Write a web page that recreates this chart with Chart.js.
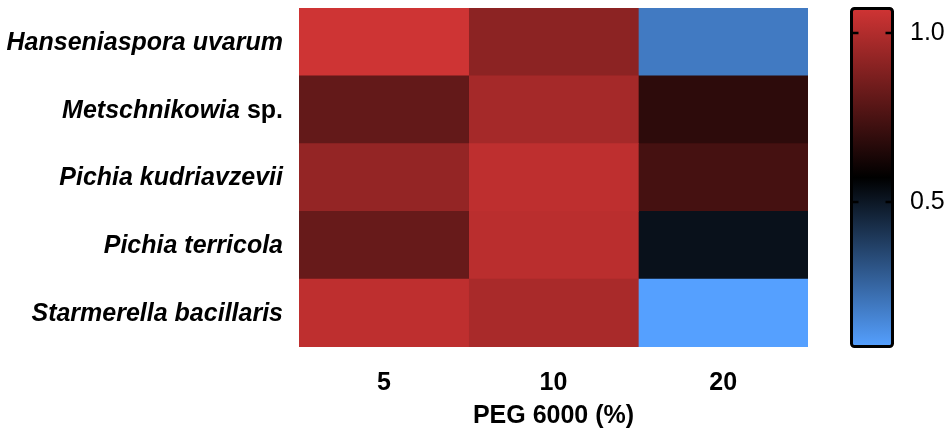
<!DOCTYPE html>
<html>
<head>
<meta charset="utf-8">
<script src="https://cdn.jsdelivr.net/npm/chart.js@4.4.1/dist/chart.umd.min.js"></script>
<style>
  html, body { margin: 0; padding: 0; background: #fff; }
  #wrap { width: 950px; height: 437px; }
</style>
</head>
<body>
<div id="wrap"><canvas id="chart"></canvas></div>
<script>
// rows (top to bottom) and columns of the heatmap
let species = ["Hanseniaspora uvarum", "Metschnikowia sp.", "Pichia kudriavzevii", "Pichia terricola", "Starmerella bacillaris"];
let pegLevels = ["5", "10", "20"];

// relative values per PEG column, one per species
let peg5 = [1.07, 0.81, 0.93, 0.82, 1.03];
let peg10 = [0.91, 0.97, 1.03, 1.02, 0.98];
let peg20 = [0.19, 0.68, 0.74, 0.52, 0.07];

// colour bar
let colorTicks = [0.5, 1.0];
let colorMin = 0.071;
let colorMax = 1.074;

let lowColor = [85, 160, 255];
let midColor = [0, 0, 0];
let highColor = [208, 52, 52];

const FONT = '"Liberation Sans", Arial, sans-serif';

function mix(a, b, t) {
    let c = [];
    for (let i = 0; i < 3; i++) c.push(Math.round(a[i] + (b[i] - a[i]) * t));
    return 'rgb(' + c.join(',') + ')';
}

function valueColor(v) {
    let t = (v - colorMin) / (colorMax - colorMin);
    t = Math.max(0, Math.min(1, t));
    if (t < 0.5) return mix(lowColor, midColor, t / 0.5);
    return mix(midColor, highColor, (t - 0.5) / 0.5);
}

let columns = [peg5, peg10, peg20];
let datasets = columns.map((vals, i) => {
    return {
        label: pegLevels[i],
        data: vals.map(() => 1),   // each cell is one column wide
        backgroundColor: vals.map(valueColor),
        borderWidth: 0,
        barPercentage: 1,
        categoryPercentage: 1
    };
});

// species names (mixed italic) and the colour bar
const extras = {
    id: 'extras',
    afterDraw(chart) {
        let ctx = chart.ctx;
        let y = chart.scales.y;
        ctx.save();
        ctx.fillStyle = '#000';
        ctx.textBaseline = 'middle';
        ctx.textAlign = 'right';
        species.forEach((name, i) => {
            let yy = y.getPixelForTick(i) + 1;
            let right = y.right - 16;
            let italicPart = name, plainPart = '';
            if (name.endsWith(' sp.')) {
                italicPart = name.slice(0, -4);
                plainPart = ' sp.';
            }
            ctx.font = 'bold 25px ' + FONT;
            let w = 0;
            if (plainPart) {
                w = ctx.measureText(plainPart).width;
                ctx.fillText(plainPart, right, yy);
            }
            ctx.font = 'italic bold 25px ' + FONT;
            ctx.fillText(italicPart, right - w, yy);
        });

        let c = chart.scales.c;
        let x0 = 851.5, x1 = 892.5;
        let top = c.top + 0.5, bottom = c.bottom - 0.5;
        let grad = ctx.createLinearGradient(0, c.getPixelForValue(colorMin), 0, c.getPixelForValue(colorMax));
        grad.addColorStop(0, mix(lowColor, lowColor, 0));
        grad.addColorStop(0.5, mix(midColor, midColor, 0));
        grad.addColorStop(1, mix(highColor, highColor, 0));
        ctx.fillStyle = grad;
        ctx.fillRect(x0, top, x1 - x0, bottom - top);
        ctx.strokeStyle = '#000';
        ctx.lineWidth = 3;
        ctx.beginPath();
        ctx.roundRect(x0, top, x1 - x0, bottom - top, 3);
        ctx.stroke();
        ctx.lineWidth = 2.5;
        colorTicks.forEach(v => {
            let yy = c.getPixelForValue(v);
            ctx.beginPath();
            ctx.moveTo(x0, yy); ctx.lineTo(x0 + 7, yy);
            ctx.moveTo(x1, yy); ctx.lineTo(x1 - 7, yy);
            ctx.stroke();
        });
        ctx.restore();
    }
};

let ctx = document.getElementById('chart').getContext('2d');
let myChart = new Chart(ctx, {
    type: 'bar',
    data: { labels: species, datasets: datasets },
    plugins: [extras],
    options: {
        indexAxis: 'y',
        responsive: true,
        maintainAspectRatio: false,
        animation: false,
        layout: { padding: { top: 8, left: 0, right: 0, bottom: 0 } },
        plugins: {
            legend: { display: false },
            tooltip: { enabled: false }
        },
        scales: {
            x: {
                type: 'linear', min: 0, max: 3, stacked: true, display: false
            },
            xl: {
                type: 'category',
                labels: pegLevels,
                position: 'bottom',
                offset: true,
                grid: { display: false, drawTicks: false },
                border: { display: false },
                ticks: { color: '#000', padding: 21, font: { family: FONT, size: 25, weight: 'bold' } },
                title: {
                    display: true,
                    text: 'PEG 6000 (%)',
                    color: '#000',
                    padding: { top: 6, bottom: 6 },
                    font: { family: FONT, size: 25, weight: 'bold' }
                },
                afterFit: (scale) => { scale.height = 90; }
            },
            y: {
                type: 'category',
                stacked: true,
                grid: { display: false, drawTicks: false },
                border: { display: false },
                ticks: { display: false },
                afterFit: (scale) => { scale.width = 299; }
            },
            c: {
                type: 'linear',
                position: 'right',
                offset: false,   // bar defaults would add an offset to every y axis
                min: colorMin,
                max: colorMax,
                grid: { display: false, drawTicks: false },
                border: { display: false },
                afterBuildTicks: (scale) => { scale.ticks = colorTicks.map(v => ({ value: v })); },
                ticks: {
                    color: '#000',
                    padding: 102,
                    font: { family: FONT, size: 25 },
                    callback: (v) => v.toFixed(1)
                },
                afterFit: (scale) => {
                    scale.width = 142;
                    scale.paddingTop = 0;
                    scale.paddingBottom = 0;
                }
            }
        }
    }
});
</script>
</body>
</html>
